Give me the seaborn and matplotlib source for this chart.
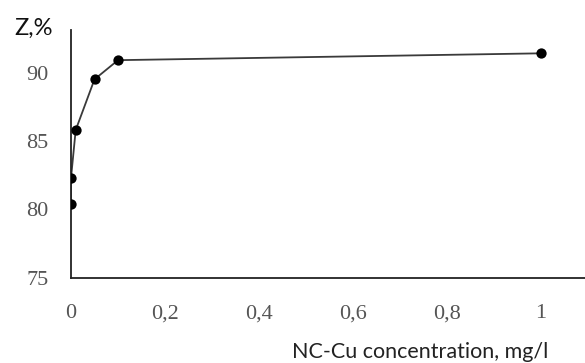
import matplotlib
matplotlib.use("Agg")
import matplotlib.pyplot as plt
import seaborn as sns
import pandas as pd
from matplotlib.ticker import FuncFormatter

# Data
concentration = [0, 0, 0.01, 0.05, 0.1, 1.0]
z_percent = [80.4, 82.3, 85.8, 89.5, 90.9, 91.4]
x_ticks = [0, 0.2, 0.4, 0.6, 0.8, 1.0]
y_ticks = [75, 80, 85, 90]
x_label = "NC-Cu concentration, mg/l"
y_label = "Z,%"

df = pd.DataFrame({"x": concentration, "y": z_percent})

sns.set_style("white")
fig = plt.figure(figsize=(5.85, 3.63), dpi=100)
ax = fig.add_axes([71 / 585, 85 / 363, (585 - 71) / 585, (278 - 30) / 363])

sns.lineplot(data=df, x="x", y="y", ax=ax, color="#3a3a3a", linewidth=1.3,
             sort=False, estimator=None)
sns.scatterplot(data=df, x="x", y="y", ax=ax, color="black", s=55,
                edgecolor="black", linewidth=0, zorder=5)

ax.set_xlim(0, (585 - 71) / 470)
ax.set_ylim(75, 75 + (278 - 30) / 13.7)
ax.set_xticks(x_ticks)
ax.set_yticks(y_ticks)

def fmt(v, pos):
    s = ("%g" % v).replace(".", ",")
    return s

ax.xaxis.set_major_formatter(FuncFormatter(fmt))
ax.yaxis.set_major_formatter(FuncFormatter(fmt))

for side in ["top", "right"]:
    ax.spines[side].set_visible(False)
for side in ["left", "bottom"]:
    ax.spines[side].set_color("#222222")
    ax.spines[side].set_linewidth(1.3)

ax.tick_params(axis="both", direction="in", length=6, width=1.2, color="#222222",
               labelsize=16, labelcolor="#555555")
ax.tick_params(axis="y", pad=16)
ax.tick_params(axis="x", pad=19)
for lab in ax.get_xticklabels() + ax.get_yticklabels():
    lab.set_fontfamily("Liberation Serif")

ax.set_xlabel("")
ax.set_ylabel("")
fig.text(420 / 585, 1 - 352 / 363, x_label, ha="center", va="center",
         fontsize=15.5, family="Lato", color="#222222")
fig.text(34 / 585, 1 - 28 / 363, y_label, ha="center", va="center",
         fontsize=17, family="Lato", color="#111111")

fig.savefig("out.png", dpi=100)
